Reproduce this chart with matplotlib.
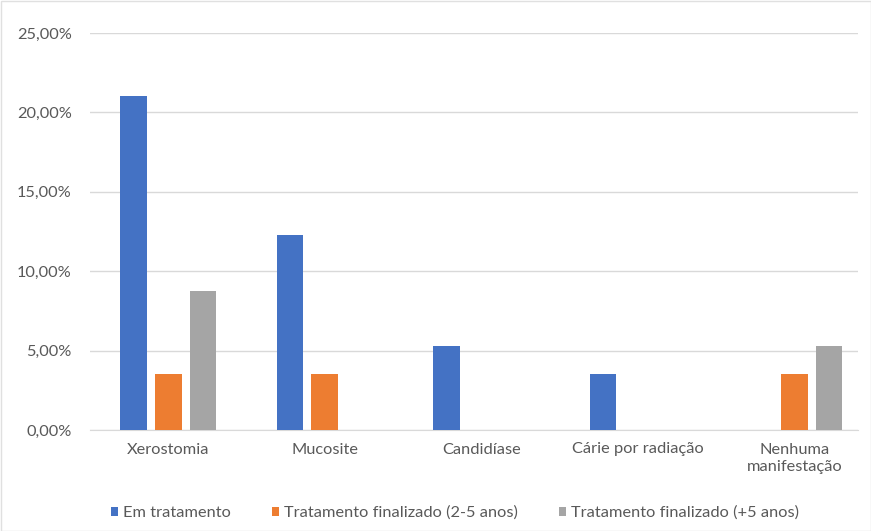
import matplotlib.pyplot as plt
import numpy as np
from matplotlib.ticker import FuncFormatter

plt.rcParams['font.family'] = ['Lato', 'DejaVu Sans']

categories = ['Xerostomia', 'Mucosite', 'Candidíase', 'Cárie por radiação', 'Nenhuma\nmanifestação']
em_tratamento = [21.05, 12.28, 5.26, 3.51, 0.0]
finalizado_2_5 = [3.51, 3.51, 0.0, 0.0, 3.51]
finalizado_5 = [8.77, 0.0, 0.0, 0.0, 5.26]
series_names = ['Em tratamento', 'Tratamento finalizado (2-5 anos)', 'Tratamento finalizado (+5 anos)']
colors = ['#4472C4', '#ED7D31', '#A5A5A5']

fig = plt.figure(figsize=(8.71, 5.31), dpi=100)
# plot area: x 90..858 px, y 33..430 px
ax = fig.add_axes([90 / 871, 1 - 430 / 531, 768 / 871, 397 / 531])

x = np.arange(len(categories))
width = 0.172
step = 0.222
for i, (vals, name, col) in enumerate(zip([em_tratamento, finalizado_2_5, finalizado_5], series_names, colors)):
    ax.bar(x + (i - 1) * step, vals, width, color=col, label=name, zorder=3)

ax.set_ylim(0, 25)
ax.set_xlim(-0.5, -0.5 + 768 / 156.5)
ax.set_yticks([0, 5, 10, 15, 20, 25])
ax.yaxis.set_major_formatter(FuncFormatter(lambda v, p: f'{v:.2f}%'.replace('.', ',')))
ax.grid(axis='y', color='#D9D9D9', linewidth=1, zorder=0)
for s in ['top', 'right', 'left']:
    ax.spines[s].set_visible(False)
ax.spines['bottom'].set_color('#D9D9D9')
ax.tick_params(axis='both', length=0, labelsize=11.8, colors='#595959')
ax.tick_params(axis='x', pad=9)
ax.tick_params(axis='y', pad=13)
ax.set_xticks(x)
ax.set_xticklabels(categories, linespacing=1.3)

fig.legend(*ax.get_legend_handles_labels(), loc='center', bbox_to_anchor=(455 / 871, 1 - 513 / 531),
           ncol=3, frameon=False, fontsize=11.8, labelcolor='#595959',
           handlelength=0.45, handleheight=0.5, handletextpad=0.3, columnspacing=2.5)

fig.patches.append(plt.Rectangle((0.5 / 871, 0.5 / 531), 1 - 1 / 871, 1 - 1 / 531,
                                 transform=fig.transFigure, fill=False, edgecolor='#E0E0E0', linewidth=1))

fig.savefig('out.png', dpi=100)
